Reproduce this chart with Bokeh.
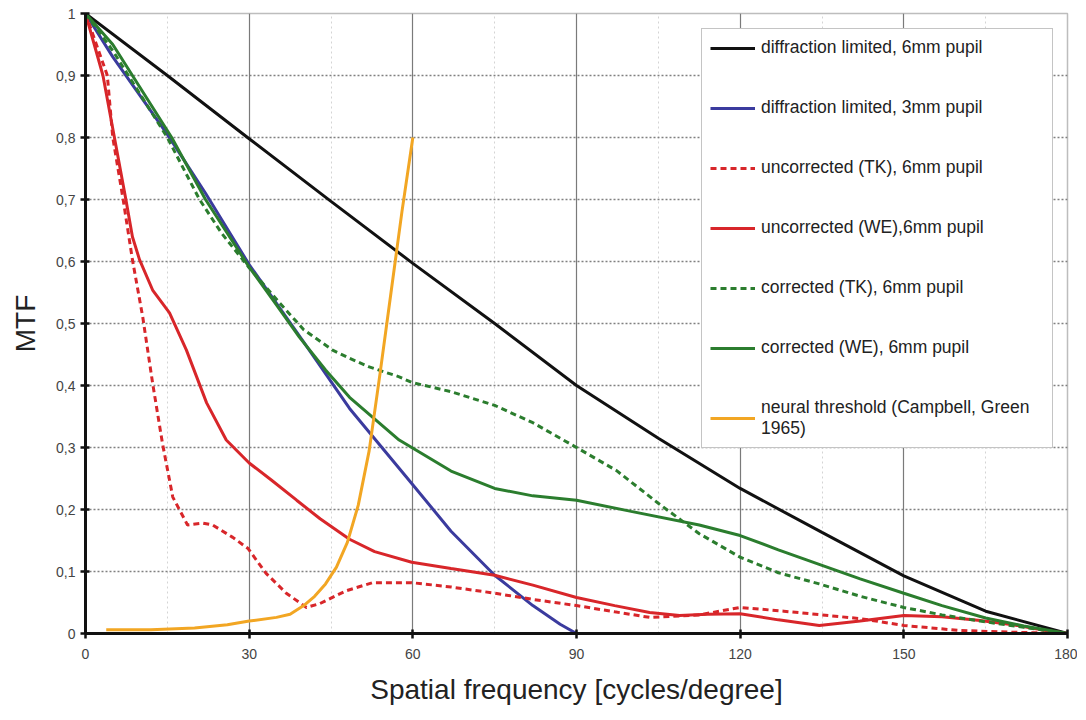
from bokeh.plotting import figure
from bokeh.models import FixedTicker, Legend, LegendItem, Range1d
from bokeh.embed import file_html
from bokeh.resources import INLINE

# ---------------- data ----------------
dl6_x = [0, 15, 30, 45, 60, 75, 90, 105, 120, 135, 150, 165, 180]
dl6_y = [1.0, 0.9, 0.798, 0.697, 0.597, 0.50, 0.40, 0.315, 0.234, 0.163, 0.093, 0.036, 0.0]

dl3_x = [0, 5, 15, 22, 30, 40, 48.4, 59.8, 67, 75, 82, 87, 90, 95]
dl3_y = [1.0, 0.93, 0.805, 0.71, 0.595, 0.47, 0.363, 0.242, 0.165, 0.094, 0.045, 0.015, 0.0, 0.0]

uTK_x = [0, 2, 4, 5, 6.9, 8.6, 10.5, 12.3, 14.1, 16.0, 18.7, 21.5, 23.3, 27, 29.8, 33.1, 36.8,
         40.5, 42.9, 47.8, 52.6, 57.5, 59.8, 67, 75, 82, 90, 97, 103.4, 112.5, 120, 128, 135,
         142, 150, 160, 170, 180]
uTK_y = [1.0, 0.95, 0.90, 0.80, 0.70, 0.603, 0.51, 0.404, 0.307, 0.22, 0.175, 0.178, 0.175, 0.155,
         0.137, 0.097, 0.065, 0.042, 0.048, 0.069, 0.082, 0.082, 0.082, 0.075, 0.065, 0.055, 0.045,
         0.035, 0.026, 0.030, 0.042, 0.036, 0.030, 0.024, 0.013, 0.005, 0.002, 0.0]

uWE_x = [0, 3.2, 5.3, 7.4, 8.6, 9.9, 12.3, 15.4, 18.5, 22.2, 25.8, 30, 34, 38.7, 43, 48.4, 53,
         59.8, 67, 75, 82, 90, 97, 103.4, 108.9, 114, 120, 127, 134.5, 142, 150, 157, 164, 170,
         176, 180]
uWE_y = [1.0, 0.90, 0.80, 0.70, 0.64, 0.603, 0.554, 0.517, 0.457, 0.372, 0.312, 0.275, 0.248,
         0.215, 0.185, 0.152, 0.132, 0.115, 0.105, 0.094, 0.078, 0.058, 0.045, 0.034, 0.029,
         0.031, 0.032, 0.022, 0.013, 0.020, 0.029, 0.027, 0.021, 0.014, 0.005, 0.0]

cTK_x = [0, 5, 15, 20.9, 25, 30, 35.6, 40, 45.3, 48.4, 52, 57.5, 59.8, 67, 75, 82, 90, 97.3,
         105, 112.5, 120, 127, 134.5, 142, 150, 157, 164, 172, 180]
cTK_y = [1.0, 0.94, 0.80, 0.70, 0.645, 0.59, 0.533, 0.49, 0.457, 0.444, 0.43, 0.414, 0.405, 0.39,
         0.368, 0.34, 0.30, 0.263, 0.21, 0.161, 0.123, 0.098, 0.08, 0.06, 0.042, 0.03, 0.02, 0.01, 0.0]

cWE_x = [0, 5, 15.8, 22, 30, 35, 39.2, 44, 48.4, 52.6, 57.5, 59.8, 67, 75, 82, 90, 100, 112.5,
         120, 127, 135, 142, 150, 157, 165, 172, 180]
cWE_y = [1.0, 0.95, 0.80, 0.70, 0.591, 0.53, 0.478, 0.425, 0.381, 0.349, 0.312, 0.30, 0.262,
         0.234, 0.222, 0.215, 0.197, 0.175, 0.158, 0.135, 0.11, 0.088, 0.065, 0.045, 0.025, 0.012, 0.0]

nt_x = [3.8, 12, 20, 26, 30, 35, 37.5, 40, 42, 44, 46, 48, 50, 52, 54, 56, 58, 60]
nt_y = [0.006, 0.006, 0.009, 0.014, 0.02, 0.026, 0.031, 0.045, 0.06, 0.08, 0.107, 0.147, 0.207,
        0.295, 0.42, 0.55, 0.68, 0.80]

x_ticks = [0, 30, 60, 90, 120, 150, 180]
y_ticks = [0, 0.1, 0.2, 0.3, 0.4, 0.5, 0.6, 0.7, 0.8, 0.9, 1.0]
y_tick_labels = ["0", "0,1", "0,2", "0,3", "0,4", "0,5", "0,6", "0,7", "0,8", "0,9", "1"]
x_minor = [15, 45, 75, 105, 135, 165]

labels = [
    "diffraction limited, 6mm pupil",
    "diffraction limited, 3mm pupil",
    "uncorrected (TK), 6mm pupil",
    "uncorrected (WE),6mm pupil",
    "corrected (TK), 6mm pupil",
    "corrected (WE), 6mm pupil",
    "neural threshold (Campbell, Green\n1965)",
]

# ---------------- figure ----------------
FONT = "Liberation Sans"
p = figure(width=1077, height=708, output_backend="svg", toolbar_location=None,
           x_range=Range1d(0, 180), y_range=Range1d(0, 1),
           min_border_left=85, min_border_right=10, min_border_top=13, min_border_bottom=75)
p.background_fill_color = "white"
p.border_fill_color = "white"
p.outline_line_color = "#bdbdbd"
p.outline_line_width = 1.5

# grids
p.xgrid.ticker = FixedTicker(ticks=x_ticks, minor_ticks=x_minor)
p.xgrid.grid_line_color = "#7a7a7a"
p.xgrid.grid_line_width = 1.2
p.xgrid.minor_grid_line_color = "#d4d4d4"
p.xgrid.minor_grid_line_dash = "2 3"
p.xgrid.minor_grid_line_width = 1
p.ygrid.ticker = FixedTicker(ticks=y_ticks)
p.ygrid.grid_line_color = "#808080"
p.ygrid.grid_line_dash = "2 2"
p.ygrid.grid_line_width = 1.3

# axes
p.xaxis.ticker = FixedTicker(ticks=x_ticks)
p.yaxis.ticker = FixedTicker(ticks=y_ticks)
p.yaxis.major_label_overrides = {t: l for t, l in zip(y_ticks, y_tick_labels)}
for ax in (p.xaxis[0], p.yaxis[0]):
    ax.axis_line_color = "#111111"
    ax.axis_line_width = 3
    ax.major_tick_line_color = "#111111"
    ax.major_tick_line_width = 2.5
    ax.major_tick_in = 4
    ax.major_tick_out = 5
    ax.minor_tick_line_color = None
    ax.major_label_text_font = FONT
    ax.major_label_text_font_size = "14px"
    ax.major_label_text_color = "#444444"
    ax.axis_label_text_font = FONT
    ax.axis_label_text_font_style = "normal"
    ax.axis_label_text_color = "#222222"
p.xaxis.major_label_standoff = 10
p.yaxis.major_label_standoff = 5
p.xaxis.axis_label = "Spatial frequency [cycles/degree]"
p.xaxis.axis_label_text_font_size = "28px"
p.xaxis.axis_label_standoff = 12
p.yaxis.axis_label = "MTF"
p.yaxis.axis_label_text_font_size = "28px"
p.yaxis.axis_label_standoff = 12

# lines
W = 3
r1 = p.line(dl6_x, dl6_y, line_color="#111111", line_width=W)
r2 = p.line(dl3_x, dl3_y, line_color="#3b3b9e", line_width=W)
r3 = p.line(uTK_x, uTK_y, line_color="#d8262a", line_width=W, line_dash="6 4")
r4 = p.line(uWE_x, uWE_y, line_color="#d8262a", line_width=W)
r5 = p.line(cTK_x, cTK_y, line_color="#2b7d2e", line_width=W, line_dash="6 4")
r6 = p.line(cWE_x, cWE_y, line_color="#2b7d2e", line_width=W)
r7 = p.line(nt_x, nt_y, line_color="#f2a623", line_width=W)

renderers = [r1, r2, r3, r4, r5, r6, r7]
legend = Legend(items=[LegendItem(label=l, renderers=[r]) for l, r in zip(labels, renderers)],
                location=(616, 185))
legend.background_fill_color = "white"
legend.background_fill_alpha = 1.0
legend.border_line_color = "#8a8a8a"
legend.border_line_width = 1.5
legend.label_text_font = FONT
legend.label_text_font_size = "17.5px"
legend.label_text_color = "#222222"
legend.glyph_width = 45
legend.label_standoff = 6
legend.padding = 8
legend.label_height = 20
legend.spacing = 39
legend.label_width = 283
legend.margin = 0
p.add_layout(legend)

open("out.html", "w").write(file_html(p, INLINE))
